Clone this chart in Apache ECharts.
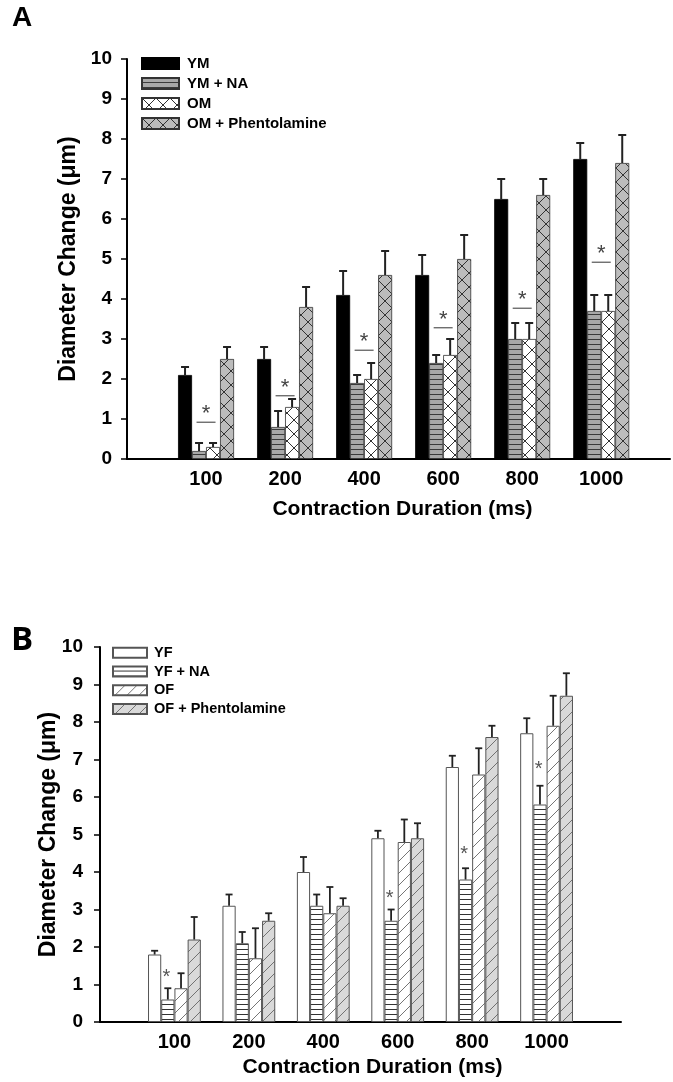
<!DOCTYPE html>
<html>
<head>
<meta charset="utf-8">
<script src="https://cdn.jsdelivr.net/npm/echarts@6/dist/echarts.min.js"></script>
<style>
  html, body { margin: 0; padding: 0; background: #fff; }
  #chart { width: 673px; height: 1082px; }
</style>
</head>
<body>
<div id="chart"></div>
<script>
// x categories (contraction duration, ms)
const categories = ['100', '200', '400', '600', '800', '1000'];

// panel A
const namesA = ['YM', 'YM + NA', 'OM', 'OM + Phentolamine'];
const ym = [2.1, 2.5, 4.1, 4.6, 6.5, 7.5];
const ymErr = [0.2, 0.3, 0.6, 0.5, 0.5, 0.4];
const ymNa = [0.2, 0.8, 1.9, 2.4, 3.0, 3.7];
const ymNaErr = [0.2, 0.4, 0.2, 0.2, 0.4, 0.4];
const om = [0.3, 1.3, 2.0, 2.6, 3.0, 3.7];
const omErr = [0.1, 0.2, 0.4, 0.4, 0.4, 0.4];
const omPhen = [2.5, 3.8, 4.6, 5.0, 6.6, 7.4];
const omPhenErr = [0.3, 0.5, 0.6, 0.6, 0.4, 0.7];
const sigLineA = [0.92, 1.58, 2.72, 3.28, 3.77, 4.92];

// panel B
const namesB = ['YF', 'YF + NA', 'OF', 'OF + Phentolamine'];
const yf = [1.8, 3.1, 4.0, 4.9, 6.8, 7.7];
const yfErr = [0.1, 0.3, 0.4, 0.2, 0.3, 0.4];
const yfNa = [0.6, 2.1, 3.1, 2.7, 3.8, 5.8];
const yfNaErr = [0.3, 0.3, 0.3, 0.3, 0.3, 0.5];
const of = [0.9, 1.7, 2.9, 4.8, 6.6, 7.9];
const ofErr = [0.4, 0.8, 0.7, 0.6, 0.7, 0.8];
const ofPhen = [2.2, 2.7, 3.1, 4.9, 7.6, 8.7];
const ofPhenErr = [0.6, 0.2, 0.2, 0.4, 0.3, 0.6];
const starB = [1.3, null, null, 3.41, 4.57, 6.85];

const FONT = "'Liberation Sans', Arial, sans-serif";

// canvas fill patterns
const pattern = (w, h, bg, draw) => {
  const c = document.createElement('canvas');
  c.width = w;
  c.height = h;
  const ctx = c.getContext('2d');
  ctx.fillStyle = bg;
  ctx.fillRect(0, 0, w, h);
  draw(ctx, w, h);
  return { image: c, repeat: 'repeat' };
};
const hLines = (color) => (ctx, w, h) => {
  ctx.strokeStyle = color;
  ctx.lineWidth = 1;
  ctx.beginPath();
  ctx.moveTo(0, h - 0.5);
  ctx.lineTo(w, h - 0.5);
  ctx.stroke();
};
const cross = (color) => (ctx, w, h) => {
  ctx.strokeStyle = color;
  ctx.lineWidth = 1;
  ctx.beginPath();
  ctx.moveTo(-1, -1); ctx.lineTo(w + 1, h + 1);
  ctx.moveTo(w + 1, -1); ctx.lineTo(-1, h + 1);
  ctx.stroke();
};
const diag = (color) => (ctx, w, h) => {
  ctx.strokeStyle = color;
  ctx.lineWidth = 0.9;
  ctx.beginPath();
  ctx.moveTo(-1, h + 1); ctx.lineTo(w + 1, -1);
  ctx.stroke();
};

const styleA = [
  { color: '#000', borderColor: '#000', borderWidth: 0.8 },
  { color: pattern(4, 5, '#a8a8a8', hLines('#3a3a3a')), borderColor: '#333', borderWidth: 0.8 },
  { color: pattern(14, 14, '#fff', cross('#333')), borderColor: '#333', borderWidth: 0.8 },
  { color: pattern(14, 14, '#bcbcbc', cross('#333')), borderColor: '#333', borderWidth: 0.8 }
];
const styleB = [
  { color: '#fff', borderColor: '#555', borderWidth: 1 },
  { color: pattern(4, 5, '#fff', hLines('#333')), borderColor: '#555', borderWidth: 1 },
  { color: pattern(12, 12, '#fff', diag('#666')), borderColor: '#555', borderWidth: 1 },
  { color: pattern(12, 12, '#d9d9d9', diag('#666')), borderColor: '#555', borderWidth: 1 }
];

const barSeries = (grid, name, vals, style, bw) => ({
  type: 'bar',
  name: name,
  xAxisIndex: grid,
  yAxisIndex: grid,
  barWidth: bw,
  barGap: '0%',
  itemStyle: style,
  data: vals.map((v, i) => [i + 1, v])
});

// one-sided error bar with cap, shifted to its bar inside the group
const errSeries = (grid, vals, errs, k, bw, lw, cap) => ({
  type: 'custom',
  xAxisIndex: grid,
  yAxisIndex: grid,
  z: 3,
  silent: true,
  data: vals.map((v, i) => [i + 1, v, errs[i]]),
  renderItem: (params, api) => {
    const p0 = api.coord([api.value(0), api.value(1)]);
    const p1 = api.coord([api.value(0), api.value(1) + api.value(2)]);
    const x = p0[0] + (k - 1.5) * bw;
    const st = { stroke: '#222', lineWidth: lw };
    return {
      type: 'group',
      children: [
        { type: 'line', shape: { x1: x, y1: p0[1], x2: x, y2: p1[1] }, style: st },
        { type: 'line', shape: { x1: x - cap, y1: p1[1], x2: x + cap, y2: p1[1] }, style: st }
      ]
    };
  }
});

const sigA = {
  type: 'custom',
  xAxisIndex: 0,
  yAxisIndex: 0,
  z: 4,
  silent: true,
  data: sigLineA.map((v, i) => [i + 1, v]),
  renderItem: (params, api) => {
    const p = api.coord([api.value(0), api.value(1)]);
    return {
      type: 'group',
      children: [
        { type: 'line', shape: { x1: p[0] - 9.5, y1: p[1], x2: p[0] + 9.5, y2: p[1] },
          style: { stroke: '#333', lineWidth: 1 } },
        { type: 'text', x: p[0], y: p[1] - 8,
          style: { text: '*', fontSize: 22, fontFamily: FONT, fill: '#444', align: 'center', verticalAlign: 'middle' } }
      ]
    };
  }
};

const sigB = {
  type: 'custom',
  xAxisIndex: 1,
  yAxisIndex: 1,
  z: 4,
  silent: true,
  data: starB.map((v, i) => [i + 1, v]).filter(d => d[1] !== null),
  renderItem: (params, api) => {
    const p = api.coord([api.value(0), api.value(1)]);
    return {
      type: 'text', x: p[0] - 8, y: p[1] + 4,
      style: { text: '*', fontSize: 20, fontFamily: FONT, fill: '#555', align: 'center', verticalAlign: 'middle' }
    };
  }
};

const valueXAxis = (grid, max, nameGap, shift, labelSize) => ({
  gridIndex: grid,
  type: 'value',
  min: 0,
  max: max,
  interval: 1,
  axisLine: { show: true, lineStyle: { color: '#000', width: 2 } },
  axisTick: { show: false },
  splitLine: { show: false },
  axisLabel: {
    formatter: v => categories[v - 1] || '',
    color: '#000', fontSize: labelSize, fontWeight: 'bold', fontFamily: FONT, margin: 10
  },
  name: 'Contraction Duration (ms)',
  nameLocation: 'middle',
  nameGap: nameGap,
  nameTextStyle: { color: '#000', fontSize: 21, fontWeight: 'bold', fontFamily: FONT, padding: [0, 0, 0, shift] }
});

const valueYAxis = (grid, nameGap, margin, moveOverlap) => ({
  gridIndex: grid,
  type: 'value',
  min: 0,
  max: 10,
  interval: 1,
  axisLine: { show: true, lineStyle: { color: '#000', width: 2 } },
  axisTick: { show: true, length: 6, lineStyle: { color: '#000', width: 1.5 } },
  splitLine: { show: false },
  axisLabel: { color: '#000', fontSize: 19, fontWeight: 'bold', fontFamily: FONT, margin: margin },
  name: 'Diameter Change (\u03bcm)',
  nameLocation: 'middle',
  nameRotate: 90,
  nameGap: nameGap,
  nameMoveOverlap: moveOverlap,
  nameTextStyle: { color: '#000', fontSize: 23, fontWeight: 'bold', fontFamily: FONT }
});

const chart = echarts.init(document.getElementById('chart'), null, { renderer: 'canvas' });

const option = {
  animation: false,
  backgroundColor: '#fff',
  title: [
    { text: 'A', left: 12, top: 4, padding: 0, textStyle: { fontSize: 28, fontWeight: 'bold', fontFamily: FONT, color: '#000' } },
    { text: 'B', left: 11, top: 624, padding: 0, textStyle: { fontSize: 33, fontWeight: 'bold', fontFamily: "'Open Sans', sans-serif", color: '#000' } }
  ],
  legend: [
    {
      data: namesA, orient: 'vertical', left: 141, top: 53.5, padding: 0,
      itemWidth: 37, itemHeight: 11, itemGap: 0, icon: 'rect', selectedMode: false,
      textStyle: { fontSize: 15, fontWeight: 'bold', fontFamily: FONT, color: '#000', lineHeight: 20, padding: [0, 0, 0, 3] }
    },
    {
      data: namesB, orient: 'vertical', left: 112, top: 643.5, padding: 0,
      itemWidth: 34, itemHeight: 10, itemGap: 0, icon: 'rect', selectedMode: false,
      textStyle: { fontSize: 14.5, fontWeight: 'bold', fontFamily: FONT, color: '#000', lineHeight: 18.7, padding: [0, 0, 0, 2] }
    }
  ],
  grid: [
    { left: 127, top: 59, width: 545, height: 400 },
    { left: 100, top: 647, width: 521, height: 375 }
  ],
  xAxis: [
    valueXAxis(0, 6.87, 40, 8, 20),
    valueXAxis(1, 7, 35, 24, 20)
  ],
  yAxis: [
    valueYAxis(0, 46, 15, true),
    valueYAxis(1, 40, 17, false)
  ],
  series: [
    barSeries(0, namesA[0], ym, styleA[0], 14),
    barSeries(0, namesA[1], ymNa, styleA[1], 14),
    barSeries(0, namesA[2], om, styleA[2], 14),
    barSeries(0, namesA[3], omPhen, styleA[3], 14),
    barSeries(1, namesB[0], yf, styleB[0], 13.2),
    barSeries(1, namesB[1], yfNa, styleB[1], 13.2),
    barSeries(1, namesB[2], of, styleB[2], 13.2),
    barSeries(1, namesB[3], ofPhen, styleB[3], 13.2),
    errSeries(0, ym, ymErr, 0, 14, 2, 4),
    errSeries(0, ymNa, ymNaErr, 1, 14, 2, 4),
    errSeries(0, om, omErr, 2, 14, 2, 4),
    errSeries(0, omPhen, omPhenErr, 3, 14, 2, 4),
    errSeries(1, yf, yfErr, 0, 13.2, 1.8, 3.5),
    errSeries(1, yfNa, yfNaErr, 1, 13.2, 1.8, 3.5),
    errSeries(1, of, ofErr, 2, 13.2, 1.8, 3.5),
    errSeries(1, ofPhen, ofPhenErr, 3, 13.2, 1.8, 3.5),
    sigA,
    sigB
  ]
};

chart.setOption(option);
</script>
</body>
</html>
